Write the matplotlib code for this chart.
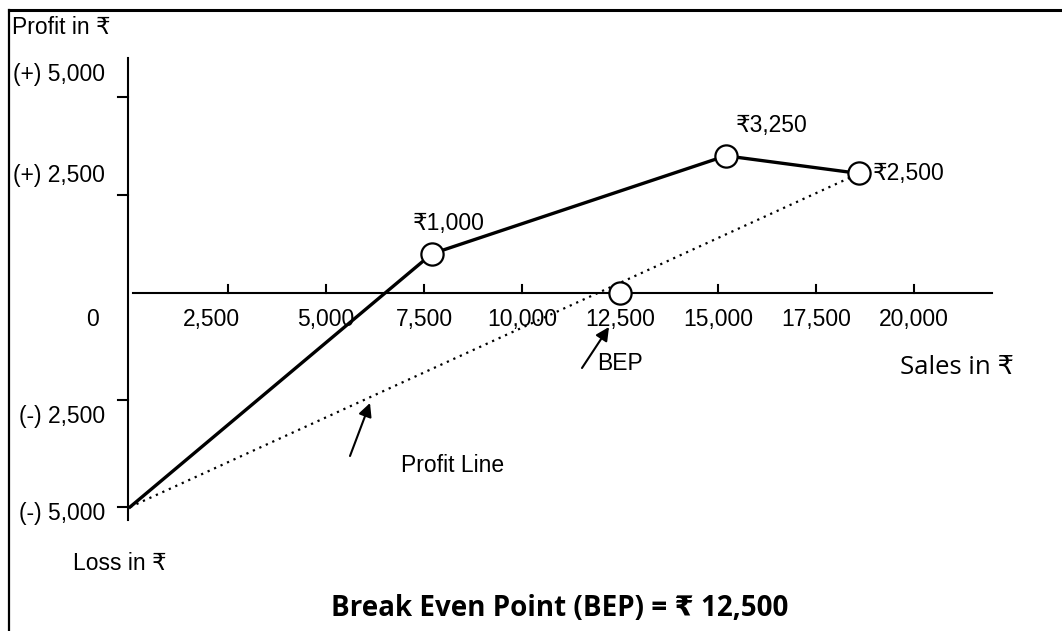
import matplotlib
matplotlib.use('Agg')
import numpy as np
import matplotlib.pyplot as plt
from matplotlib.lines import Line2D

W, H = 1062, 631

# sales (x) and profit (y) of the plotted points
sales = [0, 7700, 15200, 18600]
profit = [-5000, 1000, 3500, 3050]
point_labels = ['₹1,000', '₹3,250', '₹2,500']
bep_sales = 12500

xticks = [2500, 5000, 7500, 10000, 12500, 15000, 17500, 20000]
xtick_labels = ['2,500', '5,000', '7,500', '10,000', '12,500', '15,000', '17,500', '20,000']
yticks = [5000, 2500, -2500, -5000]
ytick_labels = ['(+) 5,000', '(+) 2,500', '(-) 2,500', '(-) 5,000']

ARIAL = ['Liberation Sans', 'DejaVu Sans']
SEGOE = ['Open Sans', 'DejaVu Sans']
FS = 16.5


def px(x, y):
    return x / W, 1 - y / H


# the loss side of the hand drawn axis is a bit more stretched
def fwd(y):
    y = np.asarray(y, dtype=float)
    return np.where(y < 0, y * 1.092, y)


def inv(t):
    t = np.asarray(t, dtype=float)
    return np.where(t < 0, t / 1.092, t)


fig = plt.figure(figsize=(W / 100, H / 100), dpi=100)
ax = fig.add_axes([0, 0, 1, 1])
ax.set_axis_off()
ax.set_yscale('function', functions=(fwd, inv))
ax.set_xlim(-130 * 2500 / 98, (W - 130) * 2500 / 98)
ax.set_ylim(-(H - 293) / 0.0392 / 1.092, 293 / 0.0392)

# outer frame (top and left edges)
fig.add_artist(Line2D([9 / W, 1], [1 - 10 / H, 1 - 10 / H], color='black', lw=2.2, transform=fig.transFigure))
fig.add_artist(Line2D([9 / W, 9 / W], [1 - 10 / H, 0], color='black', lw=1.6, transform=fig.transFigure))

# axes
ax.plot([-50, -50], [-5300, 6000], color='black', lw=1.5)
ax.plot([80, 22000], [0, 0], color='black', lw=1.5)
for v in yticks:
    ax.plot([-300, -50], [v, v], color='black', lw=1.5)
for v in xticks:
    ax.plot([v, v], [0, 200], color='black', lw=1.5)

# tick labels
ydy = {5000: 16, 2500: 14, -2500: -12, -5000: -5}
for v, s in zip(yticks, ytick_labels):
    ax.annotate(s, xy=(-640, v), xytext=(0, ydy[v]), textcoords='offset points',
                ha='right', va='center', fontsize=FS, family=ARIAL)
ax.annotate('0', xy=(-960, 0), xytext=(0, -19), textcoords='offset points',
            ha='center', va='center', fontsize=FS, family=ARIAL)
for v, s in zip(xticks, xtick_labels):
    dx = -12 if v == 2500 else 0
    ax.annotate(s, xy=(v, 0), xytext=(dx, -19), textcoords='offset points',
                ha='center', va='center', fontsize=FS, family=ARIAL)

# profit line (dotted) and actual profit path
ax.plot([sales[0], sales[-1]], [profit[0], profit[-1]], color='black', lw=1.6, linestyle=(0, (1, 2.2)))
ax.plot(sales, profit, color='black', lw=2.4, solid_joinstyle='round')
ax.plot(sales[1:], profit[1:], 'o', ms=16, mfc='white', mec='black', mew=1.6)
ax.plot([bep_sales], [0], 'o', ms=16, mfc='white', mec='black', mew=1.6)

offsets = [(12, 22, 'center'), (33, 22, 'center'), (10, 0, 'left')]
for x, y, s, (dx, dy, ha) in zip(sales[1:], profit[1:], point_labels, offsets):
    ax.annotate(s, xy=(x, y), xytext=(dx, dy), textcoords='offset points',
                ha=ha, va='center', fontsize=FS, family=ARIAL)

# annotations
arrow = dict(arrowstyle='-|>', mutation_scale=20, lw=1.5, color='black', shrinkA=0, shrinkB=0)
ax.annotate('', xy=px(370, 403), xytext=px(350, 456), xycoords='figure fraction',
            textcoords='figure fraction', arrowprops=arrow)
ax.annotate('', xy=px(609, 327), xytext=px(582, 368), xycoords='figure fraction',
            textcoords='figure fraction', arrowprops=arrow)

fig.text(*px(597, 364), 'BEP', ha='left', va='center', fontsize=FS, family=ARIAL)
fig.text(*px(401, 465), 'Profit Line', ha='left', va='center', fontsize=FS, family=ARIAL)
fig.text(*px(12, 28), 'Profit in ₹', ha='left', va='center', fontsize=FS, family=ARIAL)
fig.text(*px(73, 563), 'Loss in ₹', ha='left', va='center', fontsize=FS, family=ARIAL)
fig.text(*px(900, 367), 'Sales in ₹', ha='left', va='center', fontsize=18.5, family=SEGOE)
fig.text(*px(560, 609), 'Break Even Point (BEP) = ₹ 12,500', ha='center', va='center',
         fontsize=20, fontweight='bold', family=SEGOE)

fig.savefig('out.png', dpi=100, facecolor='white')
